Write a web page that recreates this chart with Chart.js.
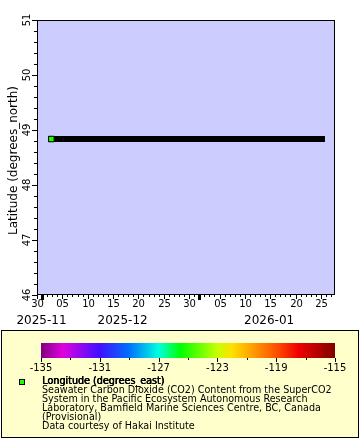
<!DOCTYPE html>
<html><head><meta charset="utf-8">
<script src="https://cdn.jsdelivr.net/npm/chart.js@4.4.1/dist/chart.umd.min.js"></script>
<style>
html,body{margin:0;padding:0;background:#fff;width:360px;height:440px;overflow:hidden;font-family:"DejaVu Sans",sans-serif;}
#c1{position:absolute;left:0;top:0;}
#legend{position:absolute;left:1px;top:330px;width:356px;height:106px;border:1px solid #000;background:#ffffcc;}
#c2{position:absolute;left:0;top:0;}
#mk{position:absolute;left:17px;top:48px;width:4px;height:4px;border:1px solid #000;}
#txt{position:absolute;left:40px;top:45px;font-size:9.6px;line-height:9px;color:#000;white-space:nowrap;}
#txt b{font-weight:normal;text-shadow:0.6px 0 0 #000, 0.3px 0 0 #000;}
</style></head>
<body>
<canvas id="c1" width="360" height="330"></canvas>
<div id="legend">
  <canvas id="c2" width="356" height="46"></canvas>
  <div id="mk"></div>
  <div id="txt"></div>
</div>
<script>
// ---------- data ----------
const timeStrings = ['2025-12-02T20:00:00Z', '2026-01-25T05:00:00Z'];
const latitudes = [48.836, 48.836];
const longitudes = [-125.13, -125.13];
const xRange = ['2025-11-30T00:00:00Z', '2026-01-27T18:40:00Z'];
const latRange = [46, 51];
const latTicks = [46, 47, 48, 49, 50, 51];
const monthLabels = ['2025-11', '2025-12', '2026-01'];
const lonRange = [-135, -115];
const lonTicks = [-135, -131, -127, -123, -119, -115];
const yTitle = 'Latitude (degrees_north)';
const legendTitle = 'Longitude (degrees_east)';
const legendLines = [
  'Seawater Carbon Dioxide (CO2) Content from the SuperCO2',
  'System in the Pacific Ecosystem Autonomous Research',
  'Laboratory, Bamfield Marine Sciences Centre, BC, Canada',
  '(Provisional)',
  'Data courtesy of Hakai Institute'
];
// palette (style)
const paletteStops = [
  [-135, '#800080'], [-133.5, '#e000e0'], [-131, '#4010ff'], [-129, '#0070ff'],
  [-127, '#00ffe0'], [-125.5, '#00ff00'], [-123, '#c8ff00'], [-122, '#ffe000'],
  [-119, '#ff5000'], [-117.5, '#f00000'], [-115, '#800000']
];

const DAY = 86400000;
const dayNum = s => Date.parse(s) / DAY;
const FONT = '"DejaVu Sans", sans-serif';
Chart.defaults.font.family = FONT;

function hexRgb(h){ return [1,3,5].map(i => parseInt(h.substr(i,2),16)); }
function paletteColor(v){
  for (let i = 0; i < paletteStops.length - 1; i++) {
    const [a, ca] = paletteStops[i], [b, cb] = paletteStops[i+1];
    if (v >= a && v <= b) {
      const t = (v - a) / (b - a), A = hexRgb(ca), B = hexRgb(cb);
      return 'rgb(' + A.map((c,k) => Math.round(c + (B[k]-c)*t)).join(',') + ')';
    }
  }
  return v < paletteStops[0][0] ? paletteStops[0][1] : paletteStops[paletteStops.length-1][1];
}

const axesPlugin = {
  id: 'axesPlugin',
  beforeDraw(chart){
    const {ctx, chartArea:a} = chart;
    ctx.save(); ctx.fillStyle = '#ccccff';
    ctx.fillRect(a.left, a.top, a.right - a.left, a.bottom - a.top);
    ctx.restore();
  },
  afterDraw(chart){
    const {ctx, chartArea:a, scales:{x, y}} = chart;
    ctx.save();
    ctx.strokeStyle = '#000'; ctx.fillStyle = '#000'; ctx.lineWidth = 1;
    ctx.strokeRect(a.left + 0.5, a.top + 0.5, a.right - a.left - 1, a.bottom - a.top - 1);
    // y ticks
    for (let i = 0; i <= (latRange[1]-latRange[0])*5; i++) {
      const v = latRange[0] + i * 0.2;
      const py = Math.round(y.getPixelForValue(v)) + 0.5;
      const len = (i % 5 === 0) ? 5 : 3;
      ctx.beginPath(); ctx.moveTo(a.left - len, py); ctx.lineTo(a.left, py); ctx.stroke();
    }
    ctx.font = '10px ' + FONT; ctx.textAlign = 'center'; ctx.textBaseline = 'middle';
    latTicks.forEach(v => {
      const py = y.getPixelForValue(v);
      ctx.save(); ctx.translate(a.left - 10, py); ctx.rotate(-Math.PI/2);
      ctx.fillText(String(v), 0, 0); ctx.restore();
    });
    ctx.font = '12px ' + FONT;
    ctx.save(); ctx.translate(14, (a.top + a.bottom)/2 + 3); ctx.rotate(-Math.PI/2);
    ctx.fillText(yTitle, 0, 0); ctx.restore();
    // x ticks
    const d0 = Math.ceil(x.min), d1 = Math.floor(x.max);
    ctx.font = '10px ' + FONT;
    for (let d = d0; d <= d1; d++) {
      const px = Math.round(x.getPixelForValue(d)) + 0.5;
      const dom = new Date(d * DAY).getUTCDate();
      if (dom === 1) {
        ctx.fillRect(px - 1.5, a.bottom, 3, 5);
      } else {
        const len = (dom % 5 === 0) ? 4 : 2;
        ctx.beginPath(); ctx.moveTo(px, a.bottom); ctx.lineTo(px, a.bottom + len); ctx.stroke();
        if (dom % 5 === 0) ctx.fillText(String(dom).padStart(2, '0'), px, a.bottom + 9);
      }
    }
    ctx.font = '12px ' + FONT;
    monthLabels.forEach(m => {
      const [yy, mm] = m.split('-').map(Number);
      const s = Math.max(Date.UTC(yy, mm-1, 1)/DAY, x.min);
      const e = Math.min(Date.UTC(yy, mm, 1)/DAY, x.max);
      const cx = (x.getPixelForValue(s) + x.getPixelForValue(e))/2 + 2;
      ctx.fillText(m, cx, a.bottom + 26);
    });
    ctx.restore();
  }
};

new Chart(document.getElementById('c1'), {
  type: 'line',
  data: { datasets: [{
    data: timeStrings.map((t, i) => ({x: dayNum(t), y: latitudes[i]})),
    borderColor: '#000', borderWidth: 6, borderCapStyle: 'square',
    pointStyle: 'rect',
    pointRadius: c => c.dataIndex === 0 ? 3.9 : 0,
    pointHoverRadius: 0,
    pointBackgroundColor: c => paletteColor(longitudes[c.dataIndex]),
    pointBorderColor: '#000', pointBorderWidth: 1
  }]},
  options: {
    responsive: false, animation: false, devicePixelRatio: 1, events: [],
    layout: {padding: {left: 37, top: 20, right: 25, bottom: 35}},
    plugins: {legend: {display: false}, tooltip: {enabled: false}},
    scales: {
      x: {type: 'linear', display: false, min: dayNum(xRange[0]), max: dayNum(xRange[1])},
      y: {type: 'linear', display: false, min: latRange[0], max: latRange[1]}
    }
  },
  plugins: [axesPlugin]
});

const cbPlugin = {
  id: 'cbPlugin',
  afterDraw(chart){
    const {ctx, chartArea:a, scales:{x}} = chart;
    ctx.save();
    const g = ctx.createLinearGradient(a.left, 0, a.right, 0);
    paletteStops.forEach(([v, c]) => g.addColorStop((x.getPixelForValue(v) - a.left)/(a.right - a.left), c));
    ctx.fillStyle = g; ctx.fillRect(a.left, a.top, a.right - a.left, a.bottom - a.top);
    ctx.strokeStyle = '#000'; ctx.fillStyle = '#000'; ctx.lineWidth = 1;
    for (let v = lonRange[0]; v <= lonRange[1]; v += 2) {
      const px = Math.round(x.getPixelForValue(v)) + 0.5;
      const len = lonTicks.includes(v) ? 4 : 2;
      ctx.beginPath(); ctx.moveTo(px, a.bottom); ctx.lineTo(px, a.bottom + len); ctx.stroke();
    }
    ctx.font = '10px ' + FONT; ctx.textAlign = 'center'; ctx.textBaseline = 'middle';
    lonTicks.forEach(v => ctx.fillText(String(v), x.getPixelForValue(v), a.bottom + 10));
    ctx.restore();
  }
};
new Chart(document.getElementById('c2'), {
  type: 'scatter',
  data: {datasets: []},
  options: {
    responsive: false, animation: false, devicePixelRatio: 1, events: [],
    layout: {padding: {left: 39, right: 23, top: 12, bottom: 19}},
    plugins: {legend: {display: false}, tooltip: {enabled: false}},
    scales: {
      x: {type: 'linear', display: false, min: lonRange[0], max: lonRange[1]},
      y: {type: 'linear', display: false, min: 0, max: 1}
    }
  },
  plugins: [cbPlugin]
});

document.getElementById('mk').style.background = paletteColor(longitudes[0]);
const txt = document.getElementById('txt');
const b = document.createElement('b'); b.textContent = legendTitle; txt.appendChild(b);
legendLines.forEach(l => { txt.appendChild(document.createElement('br')); txt.appendChild(document.createTextNode(l)); });
</script>
</body></html>
